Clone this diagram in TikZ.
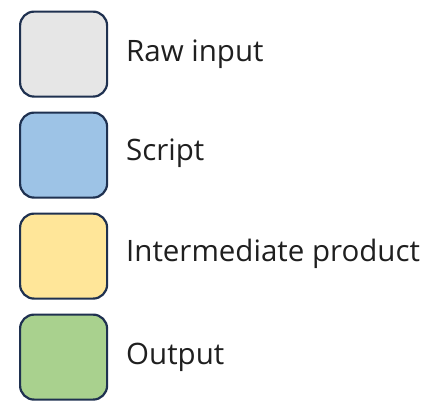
\documentclass[tikz,border=0pt]{standalone}
\usepackage{fontspec}
\setmainfont{Open Sans}
\definecolor{edge}{HTML}{1F3150}
\definecolor{cgrey}{HTML}{E6E6E6}
\definecolor{cblue}{HTML}{9DC3E6}
\definecolor{cyellow}{HTML}{FFE699}
\definecolor{cgreen}{HTML}{A9D18E}
\tikzset{
  keybox/.style={draw=edge, line width=2.2bp, rounded corners=14bp, minimum width=87bp, minimum height=85bp, inner sep=0pt, anchor=north west},
  keylabel/.style={anchor=base west, inner sep=0pt, font=\fontsize{29.6}{34}\selectfont, text=black!88}
}
\begin{document}
\begin{tikzpicture}[x=1bp,y=-1bp]
\useasboundingbox (0,0) rectangle (423,401);
\node[keybox, fill=cgrey] (b1) at (19,10.5) {};
\node[keybox, fill=cblue] (b2) at (19,111.5) {};
\node[keybox, fill=cyellow] (b3) at (19,212.5) {};
\node[keybox, fill=cgreen] (b4) at (19,313.5) {};
\node[keylabel] (t1) at (126,61) {Raw input};
\node[keylabel] (t2) at (126,160) {Script};
\node[keylabel] (t3) at (126,261) {Intermediate product};
\node[keylabel] (t4) at (126,364) {Output};
\end{tikzpicture}
\end{document}
